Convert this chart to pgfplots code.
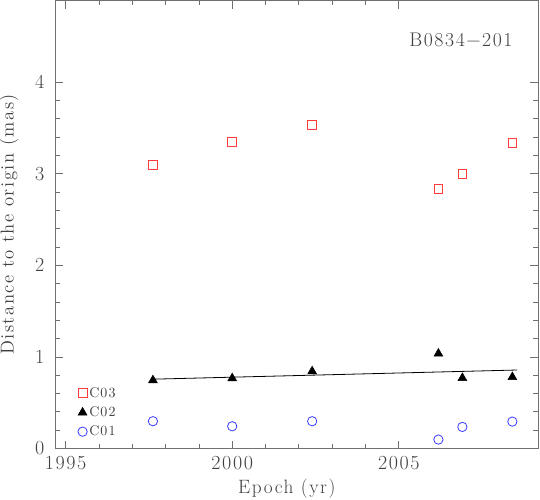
\documentclass[border=0pt]{standalone}
\usepackage{fontspec}
\setmainfont[LetterSpace=8]{Latin Modern Roman}
\usepackage{pgfplots}
\pgfplotsset{compat=1.18}
\usetikzlibrary{calc}
\definecolor{cthree}{HTML}{FF3B3B}
\definecolor{ctwo}{HTML}{000000}
\definecolor{cone}{HTML}{3A3AFF}
\definecolor{txt}{HTML}{404040}
\definecolor{axl}{HTML}{707070}
\begin{document}
\begin{tikzpicture}
\begin{axis}[
    scale only axis,
    width=362.25pt, height=336pt,
    xmin=1994.68, xmax=2009.18,
    ymin=0, ymax=4.89,
    xtick={1995,2000,2005},
    ytick={0,1,2,3,4},
    minor x tick num=4,
    minor y tick num=4,
    tick align=inside,
    major tick length=6pt,
    minor tick length=3.4pt,
    axis line style={axl, line width=0.6pt},
    every tick/.style={axl, line width=0.6pt},
    /pgf/number format/assume math mode=true,
    tick label style={txt, font=\fontsize{15}{18}\selectfont},
    xticklabel style={/pgf/number format/1000 sep=, yshift=-2.5pt},
    yticklabel style={xshift=-4.5pt},
    every axis x label/.style={at={(axis description cs:0.48,-0.089)}, anchor=center,
        txt, font=\fontsize{14.5}{17}\selectfont},
    every axis y label/.style={at={(axis description cs:-0.0952,0.5)}, rotate=90, anchor=center,
        txt, font=\fontsize{14}{17}\selectfont},
    xlabel={Epoch (yr)},
    ylabel={Distance to the origin (mas)},
    legend style={at={(axis cs:1995.36,0.70)}, anchor=north west, draw=none, fill=none,
        font=\fontsize{10.5}{12}\selectfont, text=txt, row sep=1.5pt,
        inner sep=0pt, nodes={inner xsep=1.5pt}},
    legend cell align={left},
    legend image code/.code={\draw[#1] plot coordinates {(0.1cm,0cm)};},
]
% C03
\addplot[only marks, mark=square, mark size=3.3pt, cthree, line width=0.6pt]
    coordinates {(1997.62,3.10) (2000.00,3.35) (2002.40,3.53) (2006.19,2.83) (2006.91,3.00) (2008.41,3.34)};
\addlegendentry{C03}
% C02
\addplot[only marks, mark=triangle*, mark size=3.8pt, ctwo]
    coordinates {(1997.62,0.745) (2000.00,0.767) (2002.40,0.843) (2006.19,1.036) (2006.91,0.770) (2008.41,0.780)};
\addlegendentry{C02}
% C01
\addplot[only marks, mark=o, mark size=3.5pt, cone, line width=0.6pt]
    coordinates {(1997.62,0.298) (2000.00,0.243) (2002.40,0.298) (2006.19,0.098) (2006.91,0.236) (2008.41,0.294)};
\addlegendentry{C01}
% fit to C02
\addplot[black, line width=0.6pt, no markers, forget plot]
    coordinates {(1997.62,0.757) (2008.55,0.857)};
\node[anchor=east, txt, font=\fontsize{14.8}{17}\selectfont] at (rel axis cs:0.957,0.911) {B0834−201};
\end{axis}
\pgfresetboundingbox
\path ($(current axis.south west)+(-41.25pt,-38.25pt)$) rectangle ($(current axis.north east)+(1.5pt,0.4pt)$);
\end{tikzpicture}
\end{document}
